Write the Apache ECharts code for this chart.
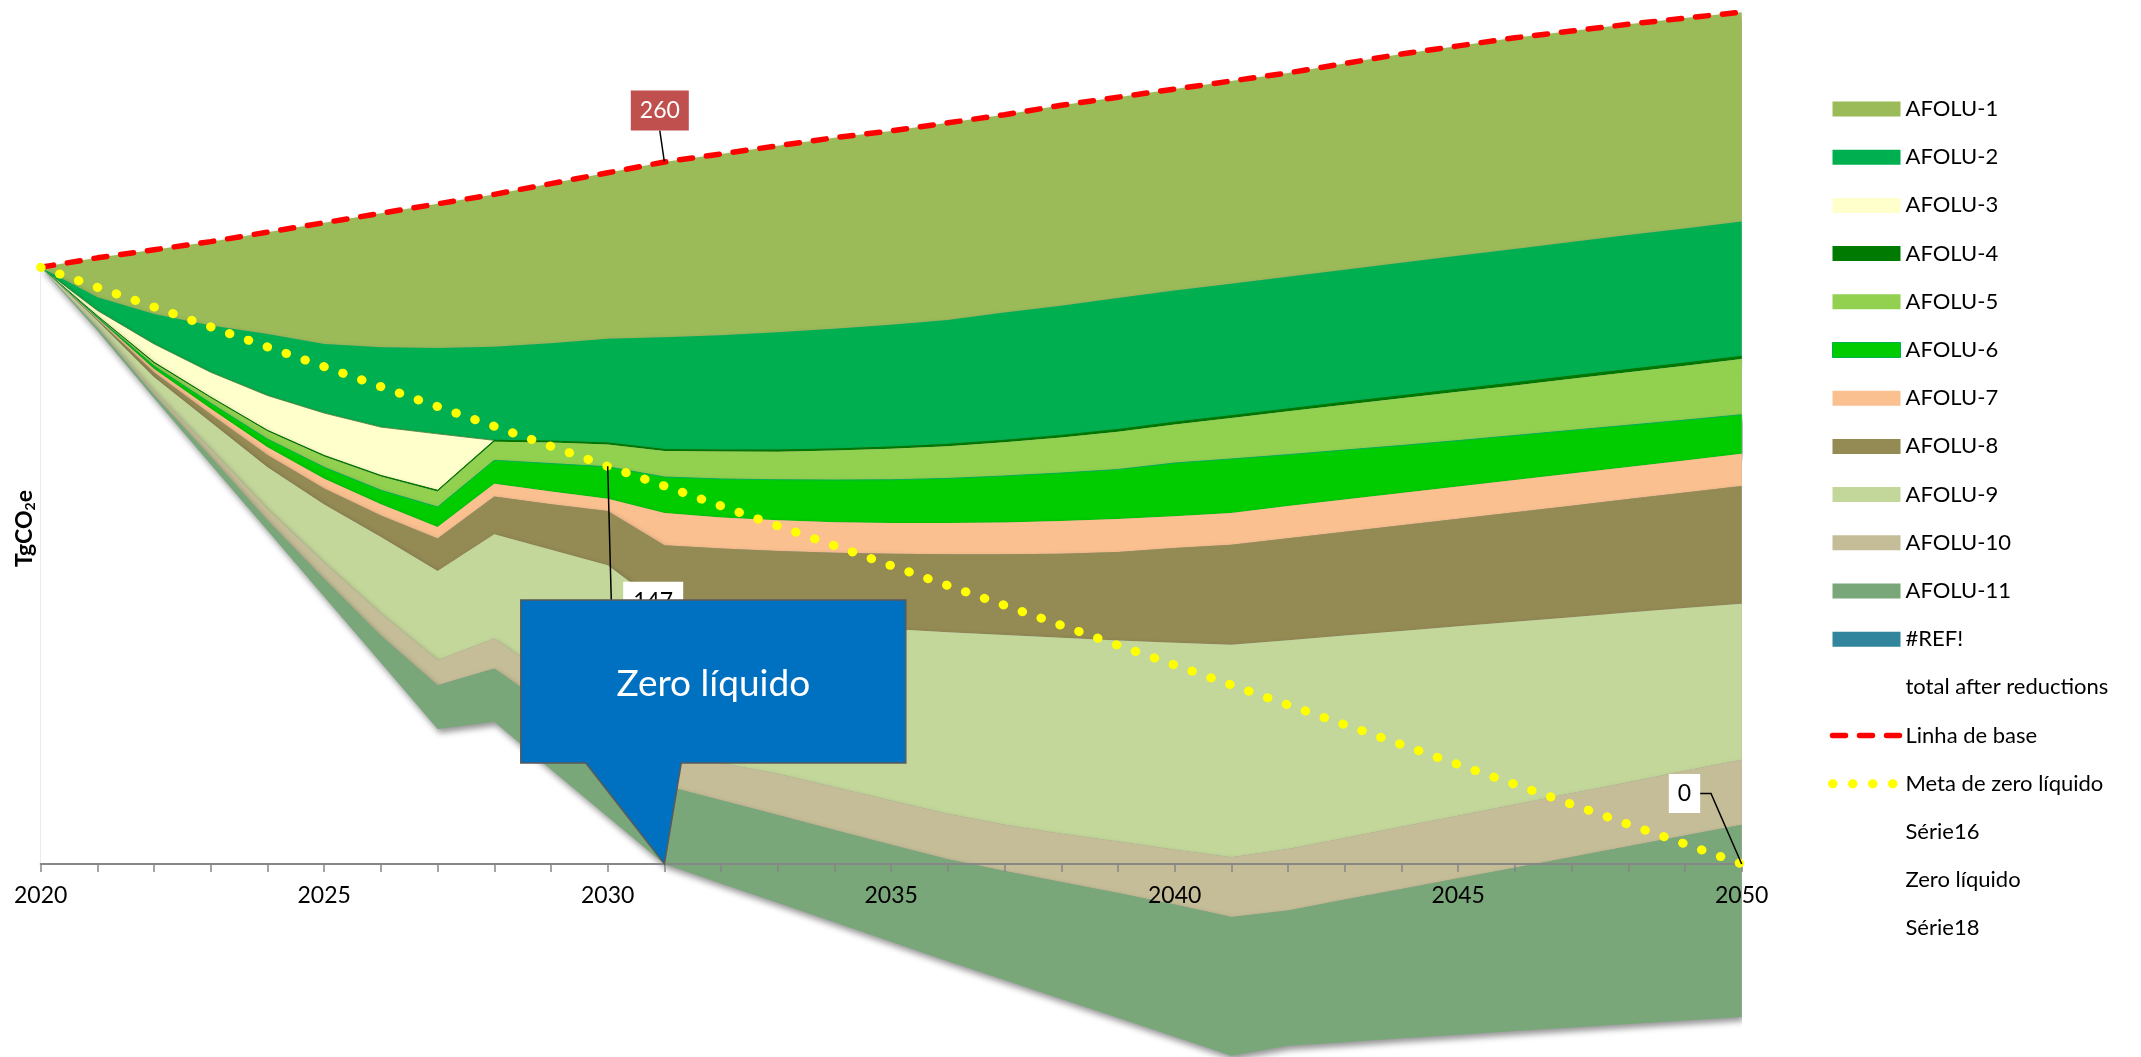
<!DOCTYPE html>
<html>
<head>
<meta charset="utf-8">
<script src="https://cdn.jsdelivr.net/npm/echarts@6/dist/echarts.min.js"></script>
<style>
html,body{margin:0;padding:0;background:#ffffff;}
#chart{width:2141px;height:1057px;}
</style>
</head>
<body>
<div id="chart"></div>
<script>
// ---------------- data ----------------
const years = ['2020','2021','2022','2023','2024','2025','2026','2027','2028','2029','2030',
  '2031','2032','2033','2034','2035','2036','2037','2038','2039','2040',
  '2041','2042','2043','2044','2045','2046','2047','2048','2049','2050'];

const baseline = [221, 224.5, 227.5, 230.5, 234, 237.5, 241, 244.5, 248, 252, 256,
  260, 263, 266, 269, 271.5, 274.5, 277.5, 281, 284, 287,
  290, 293, 296.5, 300, 303, 306, 308.5, 311, 313.3, 315.5];

const netZeroTarget = [221, 213.6, 206.3, 198.9, 191.5, 184.2, 176.8, 169.4, 162.1, 154.7, 147.3,
  140, 132.6, 125.2, 117.9, 110.5, 103.1, 95.8, 88.4, 81, 73.7,
  66.3, 58.9, 51.6, 44.2, 36.8, 29.5, 22.1, 14.7, 7.4, 0];

const totalAfterReductions = [221, 197.5, 172.5, 148, 123.5, 99, 74.5, 50, 52.7, 35, 17.5,
  0, -7.2, -14.4, -21.6, -28.8, -36, -43, -50, -57, -64,
  -71, -67.3, -66, -64.6, -63.3, -61.9, -60.6, -59.3, -58, -56.7];

const refError = [0,0,0,0,0,0,0,0,0,0,0,0,0,0,0,0,0,0,0,0,0,0,0,0,0,0,0,0,0,0,0];

const afolu1 = [0, 14.6, 23.8, 31.1, 37.7, 44.9, 49.6, 53.4, 56.4, 59.1, 61.5,
  64.9, 67.2, 69.1, 70.8, 71.8, 73, 73.2, 74.2, 74.4, 74.6,
  75.1, 75.5, 76.4, 77.3, 77.7, 78.2, 78.1, 78, 77.9, 77.5];
const afolu2 = [0, 4.9, 11.1, 17.3, 22.8, 25.6, 29.6, 31.8, 34.7, 36.3, 38.6,
  41.6, 42.5, 43.6, 44.5, 45.3, 46.1, 47.4, 48.1, 48.7, 48.8,
  48.9, 49, 49.1, 49.3, 49.5, 49.6, 49.7, 49.9, 49.9, 50];
const afolu3 = [0, 2, 6.8, 9.2, 12.9, 15.7, 17.9, 20.9, 0, 0, 0,
  0, 0, 0, 0, 0, 0, 0, 0, 0, 0,
  0, 0, 0, 0, 0, 0, 0, 0, 0, 0];
const afolu4 = [0, 0.2, 0.3, 0.3, 0.35, 0.4, 0.4, 0.4, 0.5, 0.5, 0.5,
  0.5, 0.55, 0.6, 0.6, 0.65, 0.7, 0.7, 0.75, 0.8, 0.8,
  0.85, 0.85, 0.9, 0.9, 0.9, 0.95, 0.95, 1, 1, 1];
const afolu5 = [0, 0.35, 1.1, 2, 2.9, 4, 5.1, 5.8, 6.9, 7.8, 8.3,
  9.7, 10.15, 10.4, 10.9, 11.45, 11.9, 12.5, 13.15, 14, 14.3,
  15.15, 16.05, 16.8, 17.5, 18.1, 18.55, 19.15, 19.6, 20.1, 20.6];
const afolu6 = [0, 0.35, 1.1, 2, 3, 4.2, 5.2, 7.4, 8.7, 10.3, 11.8,
  13.3, 14.3, 15, 15.6, 16, 16.5, 17.2, 17.8, 18.3, 19.7,
  20, 19, 18.3, 17.6, 17, 16.5, 16, 15.5, 15, 14.5];
const afolu7 = [0, 0.4, 1.2, 2, 2.9, 3.6, 4.1, 4.3, 4.7, 4.8, 4.6,
  12, 11.5, 11.4, 11.3, 11.4, 11.6, 11.8, 12.1, 12.3, 11.8,
  11.8, 12, 12, 11.9, 11.9, 11.9, 11.9, 11.8, 11.8, 11.9];
const afolu8 = [0, 0.5, 1.8, 3, 4.5, 6, 8, 12, 14, 16.8, 20.1,
  23, 24.3, 25.4, 26.8, 27.9, 28.9, 29.9, 31.1, 32.7, 35.1,
  37, 37.7, 38.4, 39.2, 39.9, 40.6, 41.3, 42.1, 42.8, 43.6];
const afolu9 = [0, 1.9, 5, 10, 15.5, 21.5, 28.4, 33, 38.6, 47.6, 56.3,
  55, 55.2, 57.1, 60.1, 63.6, 67.3, 70.3, 72.6, 74.5, 76.6,
  78.7, 77.4, 75, 72.5, 70.1, 67.7, 65.2, 62.8, 60.3, 57.8];
const afolu10 = [0, 0.6, 1.4, 2.8, 4.2, 6.1, 8.2, 9.3, 11.1, 11.2, 11.3,
  10.9, 13.7, 15.3, 15.8, 16.3, 16.8, 17.1, 17.9, 19.1, 20.3,
  22.1, 22.7, 22.8, 23.1, 23.2, 23.4, 23.6, 23.7, 24, 24.1];
const afolu11 = [0, 1.2, 1.4, 2.8, 3.75, 6.5, 10, 16.2, 19.7, 22.6, 25.5,
  29.1, 30.8, 32.5, 34.2, 35.9, 37.7, 40.4, 43.3, 46.2, 49,
  51.4, 50.1, 52.8, 55.3, 58, 60.5, 63.2, 65.9, 68.5, 71.2];

const baselineLabelYear = '2031';
const targetLabelYears = ['2030', '2050'];
const netZeroYear = '2031';

const legendNames = ['AFOLU-1','AFOLU-2','AFOLU-3','AFOLU-4','AFOLU-5','AFOLU-6','AFOLU-7',
  'AFOLU-8','AFOLU-9','AFOLU-10','AFOLU-11','#REF!','total after reductions',
  'Linha de base','Meta de zero líquido','Série16','Zero líquido','Série18'];

// ---------------- styles / layout ----------------
const colors = {
  'AFOLU-1':'#9BBB59','AFOLU-2':'#00B050','AFOLU-3':'#FFFFCC','AFOLU-4':'#007A00',
  'AFOLU-5':'#92D050','AFOLU-6':'#00CC00','AFOLU-7':'#FAC090','AFOLU-8':'#948A54',
  'AFOLU-9':'#C4D79B','AFOLU-10':'#C4BD97','AFOLU-11':'#79A77A','#REF!':'#31859C'
};
const FONT = 'Lato, "Open Sans", sans-serif';
const Y_MIN = -71.5, Y_MAX = 320;
const GRID_TOP = 0, GRID_BOTTOM = 0, CHART_H = 1057;
const gridH = CHART_H - GRID_TOP - GRID_BOTTOM;
// move the category axis (line, ticks, labels) up to the zero value
const zeroAxisOffset = -((0 - Y_MIN) / (Y_MAX - Y_MIN)) * gridH;

function areaSeries(name, data, z, lineStyle) {
  const c = colors[name];
  return {
    name: name, type: 'line', stack: 'total', stackStrategy: 'all', data: data,
    symbol: 'none', showSymbol: false, clip: false, z: z, color: c,
    itemStyle: {color: c},
    lineStyle: lineStyle || {width: 0},
    areaStyle: {color: c, opacity: 1, shadowBlur: 6, shadowColor: 'rgba(0,0,0,0.42)',
      shadowOffsetX: 2, shadowOffsetY: 4},
    emphasis: {disabled: true}, silent: true
  };
}

const baselineData = baseline.map(function (v, i) {
  if (years[i] !== baselineLabelYear) return v;
  return {
    value: v, symbol: 'circle', symbolSize: 1,
    label: {show: true, position: 'top', distance: 31, offset: [-4.6, 0],
      formatter: function (p) { return Math.round(p.value); },
      color: '#ffffff', backgroundColor: '#C0504D', padding: [7, 9, 7, 9],
      fontSize: 23, lineHeight: 26, fontFamily: FONT},
    labelLine: {show: true, lineStyle: {color: '#000', width: 1.5}}
  };
});

const legendData = legendNames.map(function (n) {
  if (colors[n]) {
    const item = {name: n, icon: 'rect', itemStyle: {color: colors[n], borderWidth: 0}};
    if (n === 'AFOLU-6') item.itemStyle = {color: colors[n], borderColor: '#00B050', borderWidth: 1};
    return item;
  }
  if (n === 'Linha de base') {
    return {name: n, itemStyle: {opacity: 0},
      lineStyle: {color: '#FF0000', width: 5.5, type: [13, 14], cap: 'round'}};
  }
  if (n === 'Meta de zero líquido') {
    return {name: n, itemStyle: {opacity: 0},
      lineStyle: {color: '#FFFF00', width: 9, type: [0.5, 19.5], cap: 'round'}};
  }
  return {name: n, icon: 'none', itemStyle: {opacity: 0}, lineStyle: {opacity: 0}};
});

const option = {
  animation: false,
  backgroundColor: '#ffffff',
  textStyle: {fontFamily: FONT},
  grid: {left: 40.7, right: 399.3, top: GRID_TOP, bottom: GRID_BOTTOM,
    containLabel: false, outerBoundsMode: 'none'},
  legend: {
    orient: 'vertical', left: 1823, top: 92, itemWidth: 68, itemHeight: 15, itemGap: 24.2,
    selectedMode: false,
    textStyle: {fontSize: 22, lineHeight: 24, fontFamily: FONT, color: '#000'},
    data: legendData
  },
  xAxis: {
    type: 'category', data: years, boundaryGap: false, z: 15,
    position: 'bottom', offset: zeroAxisOffset,
    axisLine: {onZero: false, lineStyle: {color: '#878787', width: 2}},
    axisTick: {show: true, interval: 0, length: 8, lineStyle: {color: '#878787', width: 1.5}},
    axisLabel: {interval: 4, color: '#000', fontSize: 23, fontFamily: FONT, margin: 20},
    splitLine: {show: false}
  },
  yAxis: {
    type: 'value', min: Y_MIN, max: Y_MAX,
    axisLine: {show: false}, axisTick: {show: false}, axisLabel: {show: false}, splitLine: {show: false},
    name: '{a|TgCO}{b|2}{a|e}', nameLocation: 'middle', nameRotate: 90, nameGap: 3,
    nameTextStyle: {
      rich: {
        a: {fontFamily: FONT, fontWeight: 'bold', fontSize: 23, lineHeight: 26, color: '#000'},
        b: {fontFamily: FONT, fontWeight: 'bold', fontSize: 14, lineHeight: 26, verticalAlign: 'bottom', color: '#000'}
      }
    }
  },
  series: [
    {
      name: 'total after reductions', type: 'line', stack: 'total', stackStrategy: 'all',
      data: totalAfterReductions, symbol: 'none', showSymbol: false, clip: false, z: 1,
      color: '#ffffff', lineStyle: {width: 0}, areaStyle: {opacity: 0}, silent: true,
      markLine: {
        silent: true, symbol: ['none', 'none'], animation: false,
        lineStyle: {color: '#ebebeb', width: 1, type: 'solid'}, label: {show: false},
        data: [[{coord: [years[0], 0]}, {coord: [years[0], totalAfterReductions[0]]}]]
      }
    },
    areaSeries('#REF!', refError, 2),
    areaSeries('AFOLU-11', afolu11, 13),
    areaSeries('AFOLU-10', afolu10, 12),
    areaSeries('AFOLU-9', afolu9, 11),
    areaSeries('AFOLU-8', afolu8, 10),
    areaSeries('AFOLU-7', afolu7, 9),
    areaSeries('AFOLU-6', afolu6, 8, {width: 1, color: '#00B050'}),
    areaSeries('AFOLU-5', afolu5, 7),
    areaSeries('AFOLU-4', afolu4, 6, {width: 1, color: '#007A00'}),
    areaSeries('AFOLU-3', afolu3, 5, {width: 0.8, color: '#3F7A2E'}),
    areaSeries('AFOLU-2', afolu2, 4),
    areaSeries('AFOLU-1', afolu1, 3),
    {
      name: 'Linha de base', type: 'line', data: baselineData, z: 20, clip: false,
      symbol: 'none', showSymbol: true, color: '#FF0000',
      lineStyle: {color: '#FF0000', width: 5.5, type: [13, 14], cap: 'round'},
      emphasis: {disabled: true}, silent: true
    },
    {
      name: 'Meta de zero líquido', type: 'line', data: netZeroTarget, z: 21, clip: false,
      symbol: 'none', showSymbol: false, color: '#FFFF00',
      lineStyle: {color: '#FFFF00', width: 9, type: [0.5, 19.5], cap: 'round'},
      emphasis: {disabled: true}, silent: true
    },
    {name: 'Série16', type: 'line', data: [], symbol: 'none', color: '#ffffff'},
    {name: 'Zero líquido', type: 'line', data: [], symbol: 'none', color: '#ffffff'},
    {name: 'Série18', type: 'line', data: [], symbol: 'none', color: '#ffffff'}
  ]
};

const chart = echarts.init(document.getElementById('chart'), null, {renderer: 'canvas'});
chart.setOption(option);

function px(year, value) {
  return chart.convertToPixel({xAxisIndex: 0, yAxisIndex: 0}, [year, value]);
}

// data labels (with leader lines) on the net-zero target line
const labelFont = '23px Lato, "Open Sans", sans-serif';
const iA = years.indexOf(targetLabelYears[0]);
const iB = years.indexOf(targetLabelYears[1]);
const pA = px(years[iA], netZeroTarget[iA]);
const pB = px(years[iB], netZeroTarget[iB]);
const labA = [pA[0] + 45.5, pA[1] + 135];
const labB = [pB[0] - 57.2, pB[1] - 70.5];

// Callout "Zero líquido" anchored on the net-zero crossing point
const tip = px(netZeroYear, 0);
const tx = tip[0], ty = tip[1];
const boxL = tx - 143.6, boxR = tx + 241.4, boxT = ty - 264, boxB = ty - 101;

chart.setOption({
  graphic: [
    {
      type: 'polyline', z: 40, silent: true,
      shape: {points: [[pA[0], pA[1]], [pA[0] + 4, pA[1] + 150]]},
      style: {stroke: '#000', lineWidth: 1.5, fill: null}
    },
    {
      type: 'text', z: 41, silent: true, x: labA[0], y: labA[1],
      style: {text: String(Math.round(netZeroTarget[iA])), font: labelFont, fill: '#000',
        backgroundColor: '#ffffff', padding: [8, 10, 8, 10], align: 'center', verticalAlign: 'middle'}
    },
    {
      type: 'polyline', z: 40, silent: true,
      shape: {points: [[labB[0] + 15.5, labB[1]], [labB[0] + 26.5, labB[1]], [pB[0], pB[1]]]},
      style: {stroke: '#000', lineWidth: 1.5, fill: null}
    },
    {
      type: 'text', z: 41, silent: true, x: labB[0], y: labB[1],
      style: {text: String(Math.round(netZeroTarget[iB])), font: labelFont, fill: '#000',
        backgroundColor: '#ffffff', padding: [8, 9, 8, 9], align: 'center', verticalAlign: 'middle'}
    },
    {
      type: 'polygon', z: 100, silent: true,
      shape: {points: [[boxL, boxT], [boxR, boxT], [boxR, boxB], [tx + 16.9, boxB], [tx, ty],
        [tx - 78.6, boxB], [boxL, boxB]]},
      style: {fill: '#0070C0', stroke: '#5A5A5A', lineWidth: 1.5}
    },
    {
      type: 'text', z: 101, silent: true,
      x: (boxL + boxR) / 2, y: (boxT + boxB) / 2 + 3,
      style: {text: 'Zero líquido', fill: '#ffffff', font: '37px Lato, "Open Sans", sans-serif',
        align: 'center', verticalAlign: 'middle'}
    }
  ]
});
</script>
</body>
</html>
